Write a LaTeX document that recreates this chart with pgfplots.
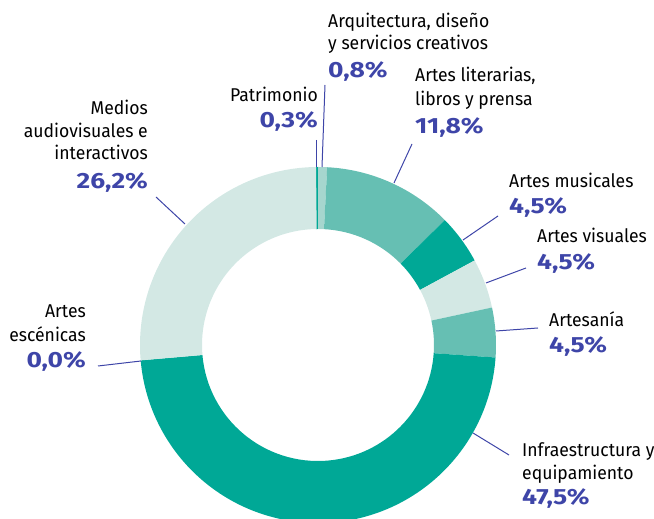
\documentclass[border=0pt]{standalone}
\usepackage{pgfplots}
\pgfplotsset{compat=1.18}
\usepackage{pgfplotstable}
\usepackage{fontspec}
\setmainfont{Fira Sans}[FakeStretch=0.95]
\newfontfamily\pcfont{Fira Sans}[FakeStretch=1.2,UprightFont=* Bold]
\definecolor{colA}{HTML}{00A896}
\definecolor{colB}{HTML}{A6D6CE}
\definecolor{colC}{HTML}{66BFB3}
\definecolor{colD}{HTML}{D3E8E4}
\definecolor{pct}{HTML}{3E45A8}
\pgfplotstableread{
v c
0.3 A
0.8 B
11.8 C
4.5 A
4.5 D
4.5 C
47.5 A
0.0 A
26.2 D
}\data
\newcommand\lbl{\fontsize{18.5}{24}\selectfont}
\newcommand\pc{\pcfont\fontsize{22}{24}\selectfont\color{pct}}
\begin{document}
\begin{tikzpicture}
\begin{axis}[width=654pt,height=519pt,scale only axis,
  xmin=0,xmax=654,ymin=0,ymax=519,hide axis]
\def\cum{0}
\pgfplotsforeachungrouped \i in {0,...,8}{%
  \pgfplotstablegetelem{\i}{v}\of\data \let\v\pgfplotsretval
  \pgfplotstablegetelem{\i}{c}\of\data \let\c\pgfplotsretval
  \pgfmathsetmacro\aone{91-3.6*\cum}%
  \pgfmathsetmacro\cum{\cum+\v}%
  \pgfmathsetmacro\atwo{91-3.6*\cum}%
  \edef\cmd{\noexpand\fill[col\c] ([shift={(\aone:178pt)}]axis cs:318,174) arc[start angle=\aone,end angle=\atwo,radius=178pt] -- ([shift={(\atwo:116pt)}]axis cs:318,174) arc[start angle=\atwo,end angle=\aone,radius=116pt] -- cycle;}%
  \cmd
}
% leader lines
\begin{scope}[draw=pct,line width=1pt]
\draw (axis cs:316,379) -- (axis cs:316,352);
\draw (axis cs:325,434) -- (axis cs:322,352);
\draw (axis cs:412,375) -- (axis cs:394,336);
\draw (axis cs:498,303) -- (axis cs:463,279);
\draw (axis cs:526,251) -- (axis cs:486,236);
\draw (axis cs:538,191) -- (axis cs:496,188);
\draw (axis cs:509,64) -- (axis cs:473,86);
\draw (axis cs:98,153) -- (axis cs:141,158);
\draw (axis cs:156,322) -- (axis cs:185,295);
\end{scope}
% labels
\node[anchor=base west,inner sep=0] at (axis cs:328,491) {\lbl Arquitectura, diseño};
\node[anchor=base west,inner sep=0] at (axis cs:328,469) {\lbl y servicios creativos};
\node[anchor=base west,inner sep=0] at (axis cs:328,441) {\pc 0,8\%};
\node[anchor=base west,inner sep=0] at (axis cs:415,437) {\lbl Artes literarias,};
\node[anchor=base west,inner sep=0] at (axis cs:415,413) {\lbl libros y prensa};
\node[anchor=base west,inner sep=0] at (axis cs:415,385) {\pc 11,8\%};
\node[anchor=base east,inner sep=0] at (axis cs:318,417) {\lbl Patrimonio};
\node[anchor=base east,inner sep=0] at (axis cs:318,391) {\pc 0,3\%};
\node[anchor=base east,inner sep=0] at (axis cs:148,404) {\lbl Medios};
\node[anchor=base east,inner sep=0] at (axis cs:148,381) {\lbl audiovisuales e};
\node[anchor=base east,inner sep=0] at (axis cs:148,359) {\lbl interactivos};
\node[anchor=base east,inner sep=0] at (axis cs:148,330) {\pc 26,2\%};
\node[anchor=base west,inner sep=0] at (axis cs:509,331) {\lbl Artes musicales};
\node[anchor=base west,inner sep=0] at (axis cs:509,305) {\pc 4,5\%};
\node[anchor=base west,inner sep=0] at (axis cs:537,276) {\lbl Artes visuales};
\node[anchor=base west,inner sep=0] at (axis cs:537,249) {\pc 4,5\%};
\node[anchor=base west,inner sep=0] at (axis cs:549,192) {\lbl Artesanía};
\node[anchor=base west,inner sep=0] at (axis cs:549,166) {\pc 4,5\%};
\node[anchor=base west,inner sep=0] at (axis cs:522,62) {\lbl Infraestructura y};
\node[anchor=base west,inner sep=0] at (axis cs:522,39) {\lbl equipamiento};
\node[anchor=base west,inner sep=0] at (axis cs:522,14) {\pc 47,5\%};
\node[anchor=base east,inner sep=0] at (axis cs:86,201) {\lbl Artes};
\node[anchor=base east,inner sep=0] at (axis cs:86,177) {\lbl escénicas};
\node[anchor=base east,inner sep=0] at (axis cs:86,151) {\pc 0,0\%};
\end{axis}
\pgfresetboundingbox
\path (current axis.south west) rectangle (current axis.north east);
\end{tikzpicture}
\end{document}
